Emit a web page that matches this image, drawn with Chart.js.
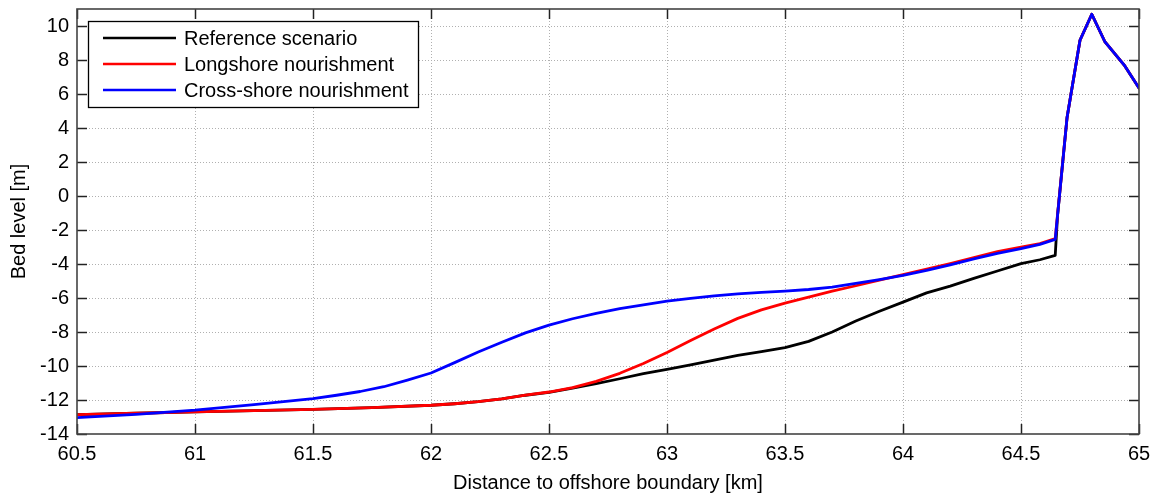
<!DOCTYPE html>
<html>
<head>
<meta charset="utf-8">
<script src="https://cdn.jsdelivr.net/npm/chart.js@4.4.1/dist/chart.umd.min.js"></script>
<style>
  html, body { margin: 0; padding: 0; background: #fff; }
  #wrap { width: 1160px; height: 496px; position: relative; }
</style>
</head>
<body>
<div id="wrap"><canvas id="c"></canvas></div>
<script>
// ---- Data ----
const seriesNames = ['Reference scenario', 'Longshore nourishment', 'Cross-shore nourishment'];
const seriesColors = ['#000000', '#ff0000', '#0000ff'];

const refDistance = [60.5, 60.75, 61.0, 61.25, 61.5, 61.75, 62.0, 62.1, 62.2, 62.3, 62.4, 62.5, 62.6, 62.7, 62.8, 62.9, 63.0, 63.1, 63.2, 63.3, 63.4, 63.5, 63.6, 63.7, 63.8, 63.9, 64.0, 64.1, 64.2, 64.3, 64.4, 64.5, 64.58, 64.645, 64.655, 64.695, 64.75, 64.8, 64.856, 64.94, 65.0];
const refLevel    = [-12.86, -12.78, -12.7, -12.62, -12.55, -12.45, -12.31, -12.22, -12.1, -11.93, -11.72, -11.55, -11.3, -11.03, -10.75, -10.45, -10.2, -9.93, -9.65, -9.38, -9.15, -8.92, -8.55, -8.0, -7.35, -6.78, -6.24, -5.7, -5.3, -4.85, -4.41, -3.98, -3.75, -3.49, -1.12, 4.6, 9.16, 10.69, 9.06, 7.65, 6.35];

const longDistance = [60.5, 60.75, 61.0, 61.25, 61.5, 61.75, 62.0, 62.1, 62.2, 62.3, 62.4, 62.5, 62.6, 62.7, 62.8, 62.9, 63.0, 63.1, 63.2, 63.3, 63.4, 63.5, 63.6, 63.7, 63.8, 63.9, 64.0, 64.1, 64.2, 64.3, 64.4, 64.5, 64.58, 64.645, 64.695, 64.75, 64.8, 64.856, 64.94, 65.0];
const longLevel    = [-12.86, -12.78, -12.7, -12.62, -12.55, -12.45, -12.31, -12.22, -12.1, -11.93, -11.72, -11.53, -11.27, -10.9, -10.43, -9.85, -9.2, -8.5, -7.82, -7.2, -6.7, -6.3, -5.95, -5.6, -5.28, -4.95, -4.62, -4.3, -3.97, -3.62, -3.27, -3.0, -2.8, -2.5, 4.6, 9.16, 10.69, 9.06, 7.65, 6.35];

const crossDistance = [60.5, 60.75, 61.0, 61.25, 61.5, 61.6, 61.7, 61.8, 61.9, 62.0, 62.1, 62.2, 62.3, 62.4, 62.5, 62.6, 62.7, 62.8, 62.9, 63.0, 63.1, 63.2, 63.3, 63.4, 63.5, 63.6, 63.7, 63.8, 63.9, 64.0, 64.1, 64.2, 64.3, 64.4, 64.5, 64.58, 64.645, 64.695, 64.75, 64.8, 64.856, 64.94, 65.0];
const crossLevel    = [-13.04, -12.85, -12.6, -12.27, -11.92, -11.72, -11.5, -11.22, -10.83, -10.41, -9.8, -9.18, -8.6, -8.05, -7.6, -7.22, -6.9, -6.62, -6.4, -6.19, -6.02, -5.87, -5.76, -5.67, -5.59, -5.5, -5.36, -5.14, -4.92, -4.67, -4.38, -4.05, -3.7, -3.38, -3.1, -2.85, -2.55, 4.6, 9.16, 10.69, 9.06, 7.65, 6.35];

const xMin = 60.5, xMax = 65, xStep = 0.5;
const yMin = -14, yMax = 11, yStep = 2;

const xTitle = 'Distance to offshore boundary [km]';
const yTitle = 'Bed level [m]';

function toPoints(xs, ys) { return xs.map((x, i) => ({ x: x, y: ys[i] })); }

const FONT = '"Liberation Sans", Arial, Helvetica, sans-serif';

// grid + frame + inner ticks + legend
const framePlugin = {
  id: 'frame',
  beforeDatasetsDraw(chart) {
    const { ctx, chartArea: a, scales: { x, y } } = chart;
    ctx.save();
    ctx.strokeStyle = '#b0b0b0';
    ctx.lineWidth = 1;
    ctx.setLineDash([1, 2]);
    x.ticks.forEach(t => {
      const px = Math.round(x.getPixelForValue(t.value)) + 0.5;
      if (px <= a.left + 1 || px >= a.right - 1) return;
      ctx.beginPath(); ctx.moveTo(px, a.top); ctx.lineTo(px, a.bottom); ctx.stroke();
    });
    y.ticks.forEach(t => {
      const py = Math.round(y.getPixelForValue(t.value)) + 0.5;
      if (py <= a.top + 1 || py >= a.bottom - 1) return;
      ctx.beginPath(); ctx.moveTo(a.left, py); ctx.lineTo(a.right, py); ctx.stroke();
    });
    ctx.restore();
  },
  afterDatasetsDraw(chart) {
    const { ctx, chartArea: a, scales: { x, y } } = chart;
    ctx.save();
    ctx.setLineDash([]);
    ctx.strokeStyle = '#222';
    ctx.lineWidth = 1.5;
    const L = 10;
    x.ticks.forEach(t => {
      const px = Math.round(x.getPixelForValue(t.value)) + 0.5;
      ctx.beginPath(); ctx.moveTo(px, a.bottom); ctx.lineTo(px, a.bottom - L); ctx.stroke();
      ctx.beginPath(); ctx.moveTo(px, a.top); ctx.lineTo(px, a.top + L); ctx.stroke();
    });
    y.ticks.forEach(t => {
      const py = Math.round(y.getPixelForValue(t.value)) + 0.5;
      ctx.beginPath(); ctx.moveTo(a.left, py); ctx.lineTo(a.left + L, py); ctx.stroke();
      ctx.beginPath(); ctx.moveTo(a.right, py); ctx.lineTo(a.right - L, py); ctx.stroke();
    });
    ctx.strokeStyle = '#444';
    ctx.lineWidth = 1.6;
    ctx.strokeRect(a.left, a.top, a.right - a.left, a.bottom - a.top);

    // legend box (inside the plot, upper left)
    const bx = 88.5, by = 21.5, bw = 330, bh = 86;
    ctx.fillStyle = '#fff';
    ctx.fillRect(bx, by, bw, bh);
    ctx.strokeStyle = '#000';
    ctx.lineWidth = 1.3;
    ctx.strokeRect(bx, by, bw, bh);
    ctx.font = '20px ' + FONT;
    ctx.textBaseline = 'middle';
    ctx.textAlign = 'left';
    chart.data.datasets.forEach((ds, i) => {
      const ly = 38 + i * 26;
      ctx.strokeStyle = ds.borderColor;
      ctx.lineWidth = 2.6;
      ctx.beginPath(); ctx.moveTo(103, ly); ctx.lineTo(176, ly); ctx.stroke();
      ctx.fillStyle = '#000';
      ctx.fillText(ds.label, 184, ly + 1);
    });
    ctx.restore();
  }
};

const datasets = [
  { label: seriesNames[0], data: toPoints(refDistance, refLevel), borderColor: seriesColors[0], order: 3 },
  { label: seriesNames[1], data: toPoints(longDistance, longLevel), borderColor: seriesColors[1], order: 2 },
  { label: seriesNames[2], data: toPoints(crossDistance, crossLevel), borderColor: seriesColors[2], order: 1 }
].map(d => Object.assign(d, {
  borderWidth: 2.8, pointRadius: 0, tension: 0, fill: false, backgroundColor: d.borderColor,
  borderJoinStyle: 'round', borderCapStyle: 'round'
}));

new Chart(document.getElementById('c'), {
  type: 'line',
  data: { datasets },
  options: {
    responsive: true,
    maintainAspectRatio: false,
    animation: false,
    layout: { padding: { top: 9, right: 21, left: 0, bottom: 0 } },
    plugins: { legend: { display: false }, tooltip: { enabled: false } },
    scales: {
      x: {
        type: 'linear', min: xMin, max: xMax,
        ticks: { stepSize: xStep, includeBounds: false, color: '#000', font: { family: FONT, size: 20 }, padding: 8, maxRotation: 0,
                 callback: v => String(Math.round(v * 10) / 10) },
        grid: { display: false, drawTicks: false },
        border: { display: false },
        title: { display: true, text: xTitle, color: '#000', font: { family: FONT, size: 20 }, padding: { top: 0, bottom: 1 } },
        afterFit(s) { s.height = 62; s.paddingLeft = 0; s.paddingRight = 0; }
      },
      y: {
        type: 'linear', min: yMin, max: yMax,
        ticks: { stepSize: yStep, includeBounds: false, color: '#000', font: { family: FONT, size: 20 }, padding: 8 },
        grid: { display: false, drawTicks: false },
        border: { display: false },
        title: { display: true, text: yTitle, color: '#000', font: { family: FONT, size: 20 }, padding: { top: 7, bottom: 0 } },
        afterFit(s) { s.width = 77; s.paddingTop = 0; s.paddingBottom = 0; }
      }
    }
  },
  plugins: [framePlugin]
});
</script>
</body>
</html>
